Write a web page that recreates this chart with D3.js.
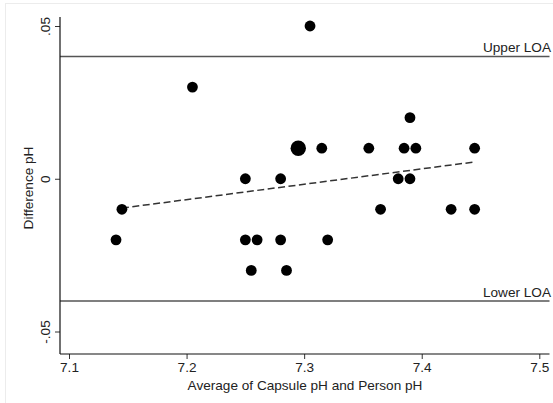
<!DOCTYPE html>
<html>
<head>
<meta charset="utf-8">
<script src="https://cdn.jsdelivr.net/npm/d3@7"></script>
<style>
  html, body { margin: 0; padding: 0; background: #fff; }
  svg { display: block; font-family: "Liberation Sans", Arial, sans-serif; }
</style>
</head>
<body>
<svg id="chart" width="553" height="403"></svg>
<script>
// ---- data ----
const avgPH  = [7.140, 7.145, 7.205, 7.250, 7.250, 7.260, 7.255, 7.280, 7.280, 7.285,
                7.295, 7.305, 7.315, 7.320, 7.355, 7.365, 7.380, 7.385, 7.390, 7.390,
                7.395, 7.425, 7.445, 7.445];
const diffPH = [-0.02, -0.01, 0.03, 0.00, -0.02, -0.02, -0.03, 0.00, -0.02, -0.03,
                 0.01, 0.05, 0.01, -0.02, 0.01, -0.01, 0.00, 0.01, 0.02, 0.00,
                 0.01, -0.01, 0.01, -0.01];
const weight = [1, 1, 1, 1, 1, 1, 1, 1, 1, 1,
                2, 1, 1, 1, 1, 1, 1, 1, 1, 1,
                1, 1, 1, 1];
const fitX = [7.145, 7.445];
const fitY = [-0.0096, 0.0055];
const loaValues = [0.04, -0.04];
const loaLabels = ["Upper LOA", "Lower LOA"];
const xTicks = [7.1, 7.2, 7.3, 7.4, 7.5];
const xTickLabels = ["7.1", "7.2", "7.3", "7.4", "7.5"];
const yTicks = [0.05, 0, -0.05];
const yTickLabels = [".05", "0", "-.05"];
const xTitle = "Average of Capsule pH and Person pH";
const yTitle = "Difference pH";

// ---- layout ----
const svg = d3.select("#chart");
const plotL = 60, plotR = 549.5, plotT = 17, plotB = 354;
const fs = 13.6;
const textColor = "#222";

// faint outer frame
svg.append("rect").attr("x", 5.5).attr("y", 3.5).attr("width", 600).attr("height", 500)
  .attr("fill", "none").attr("stroke", "#ececec").attr("stroke-width", 1);

const x = d3.scaleLinear().domain([7.1, 7.5]).range([69, 539.3]);
const y = d3.scaleLinear().domain([-0.05, 0.05]).range([331.5, 26]);

// LOA lines
const loa = svg.append("g");
loaValues.forEach((v, i) => {
  loa.append("line")
    .attr("x1", plotL).attr("x2", plotR)
    .attr("y1", y(v)).attr("y2", y(v))
    .attr("stroke", "#555").attr("stroke-width", 1.4);
  loa.append("text")
    .attr("x", 551).attr("y", y(v) - (i === 0 ? 5 : 4))
    .attr("text-anchor", "end")
    .attr("font-size", fs).attr("fill", textColor)
    .text(loaLabels[i]);
});

// axes
const xAxis = d3.axisBottom(x).tickValues(xTicks)
  .tickFormat((d, i) => xTickLabels[i]).tickSize(5).tickSizeOuter(0).tickPadding(3);
const gx = svg.append("g").attr("transform", `translate(0,${plotB})`).call(xAxis);
gx.select(".domain").remove();
gx.selectAll(".tick line").attr("stroke", "#333");
gx.selectAll(".tick text").attr("font-size", fs).attr("fill", textColor)
  .attr("font-family", "Liberation Sans, Arial, sans-serif");
svg.append("line").attr("x1", plotL).attr("x2", plotR).attr("y1", plotB).attr("y2", plotB)
  .attr("stroke", "#111").attr("stroke-width", 1.2);

const yAxis = d3.axisLeft(y).tickValues(yTicks)
  .tickFormat((d, i) => yTickLabels[i]).tickSize(5).tickSizeOuter(0).tickPadding(3);
const gy = svg.append("g").attr("transform", `translate(${plotL},0)`).call(yAxis);
gy.select(".domain").remove();
gy.selectAll(".tick line").attr("stroke", "#333");
gy.selectAll(".tick text")
  .attr("font-size", fs).attr("fill", textColor)
  .attr("font-family", "Liberation Sans, Arial, sans-serif")
  .attr("x", null).attr("dy", null)
  .attr("text-anchor", "middle")
  .attr("transform", "translate(-10,0) rotate(-90)");
svg.append("line").attr("x1", plotL).attr("x2", plotL).attr("y1", plotT).attr("y2", plotB)
  .attr("stroke", "#111").attr("stroke-width", 1.2);

// axis titles
svg.append("text")
  .attr("x", (185 + 425) / 2).attr("y", 390)
  .attr("text-anchor", "middle").attr("font-size", fs).attr("fill", textColor)
  .text(xTitle);
svg.append("text")
  .attr("transform", `translate(33,${188}) rotate(-90)`)
  .attr("text-anchor", "middle").attr("font-size", fs).attr("fill", textColor)
  .text(yTitle);

// fit line
const fitData = fitX.map((v, i) => [v, fitY[i]]);
svg.append("path")
  .datum(fitData)
  .attr("d", d3.line().x(d => x(d[0])).y(d => y(d[1])))
  .attr("fill", "none").attr("stroke", "#333").attr("stroke-width", 1.5)
  .attr("stroke-dasharray", "7,3.5");

// points
const pts = avgPH.map((v, i) => ({ x: v, y: diffPH[i], w: weight[i] }));
const r = d3.scaleSqrt().domain([1, 2]).range([5.4, 7.7]);
svg.append("g").selectAll("circle").data(pts).join("circle")
  .attr("cx", d => x(d.x)).attr("cy", d => y(d.y))
  .attr("r", d => r(d.w))
  .attr("fill", "#000");
</script>
</body>
</html>
